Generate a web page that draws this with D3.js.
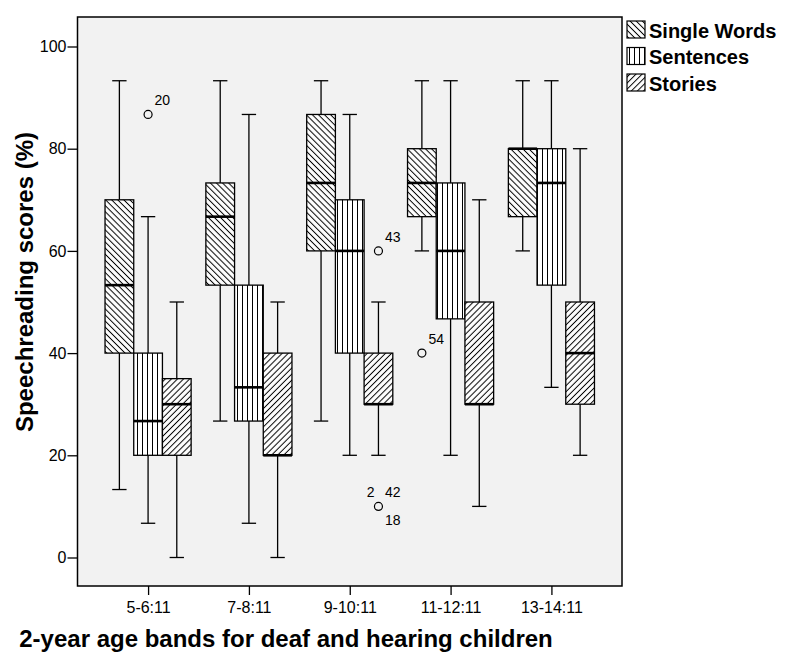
<!DOCTYPE html>
<html>
<head>
<meta charset="utf-8">
<script src="https://cdn.jsdelivr.net/npm/d3@7"></script>
<style>
  html, body { margin: 0; padding: 0; background: #fff; }
  svg { display: block; font-family: Arial, "Liberation Sans", sans-serif; }
</style>
</head>
<body>
<svg id="chart" width="800" height="663"></svg>
<script>
// ---- Data ----
const categories = ["5-6:11", "7-8:11", "9-10:11", "11-12:11", "13-14:11"];
const seriesNames = ["Single Words", "Sentences", "Stories"];
// each entry: [whiskerLow, q1, median, q3, whiskerHigh]
const singleWords = [
  [13.3, 40, 53.3, 70, 93.3],
  [26.7, 53.3, 66.7, 73.3, 93.3],
  [26.7, 60, 73.3, 86.7, 93.3],
  [60, 66.7, 73.3, 80, 93.3],
  [60, 66.7, 80, 80, 93.3]
];
const sentences = [
  [6.7, 20, 26.7, 40, 66.7],
  [6.7, 26.7, 33.3, 53.3, 86.7],
  [20, 40, 60, 70, 86.7],
  [20, 46.7, 60, 73.3, 93.3],
  [33.3, 53.3, 73.3, 80, 93.3]
];
const stories = [
  [0, 20, 30, 35, 50],
  [0, 20, 20, 40, 50],
  [20, 30, 30, 40, 50],
  [10, 30, 30, 50, 70],
  [20, 30, 40, 50, 80]
];
const outlierCats   = ["5-6:11", "9-10:11", "9-10:11", "11-12:11"];
const outlierSeries = ["Sentences", "Stories", "Stories", "Single Words"];
const outlierValues = [86.7, 60, 10, 40];
const outlierLabels = [["20"], ["43"], ["2", "42", "18"], ["54"]];
const yTicks = [0, 20, 40, 60, 80, 100];

// ---- Layout ----
const svg = d3.select("#chart");
const plot = { left: 77.5, right: 622, top: 17, bottom: 586 };
const FONT = "Arial, 'Liberation Sans', sans-serif";

const x = d3.scalePoint().domain(categories).range([plot.left, plot.right]).padding(0.7);
const boxW = 28.7;
const sub = d3.scalePoint().domain(seriesNames).range([-boxW, boxW]);
const y = d3.scaleLinear().domain([0, 100]).range([557.5, 46.5]);

// ---- Patterns ----
const defs = svg.append("defs");
function hatch(id, angle, spacing) {
  const p = defs.append("pattern")
    .attr("id", id).attr("patternUnits", "userSpaceOnUse")
    .attr("width", spacing).attr("height", spacing)
    .attr("patternTransform", `rotate(${angle})`);
  p.append("rect").attr("width", spacing).attr("height", spacing).attr("fill", "#fff");
  p.append("line").attr("x1", spacing / 2).attr("y1", 0).attr("x2", spacing / 2).attr("y2", spacing)
    .attr("stroke", "#000").attr("stroke-width", 1);
}
hatch("pSW", -45, 4.3);
hatch("pSE", 0, 5);
hatch("pST", 45, 4.3);
const fills = { "Single Words": "url(#pSW)", "Sentences": "url(#pSE)", "Stories": "url(#pST)" };
const dataBySeries = { "Single Words": singleWords, "Sentences": sentences, "Stories": stories };

// ---- Plot background ----
svg.append("rect")
  .attr("x", plot.left).attr("y", plot.top)
  .attr("width", plot.right - plot.left).attr("height", plot.bottom - plot.top)
  .attr("fill", "#f2f2f2");

// ---- Boxes ----
const boxes = [];
seriesNames.forEach(s => {
  dataBySeries[s].forEach((d, i) => {
    boxes.push({ cat: categories[i], series: s, lo: d[0], q1: d[1], med: d[2], q3: d[3], hi: d[4] });
  });
});

const g = svg.append("g");
const bg = g.selectAll("g.box").data(boxes).join("g").attr("class", "box");
const cx = d => x(d.cat) + sub(d.series);

bg.append("line") // upper whisker
  .attr("x1", cx).attr("x2", cx)
  .attr("y1", d => y(d.q3)).attr("y2", d => y(d.hi))
  .attr("stroke", "#000").attr("stroke-width", 1.3);
bg.append("line") // lower whisker
  .attr("x1", cx).attr("x2", cx)
  .attr("y1", d => y(d.q1)).attr("y2", d => y(d.lo))
  .attr("stroke", "#000").attr("stroke-width", 1.3);
bg.append("line") // top cap
  .attr("x1", d => cx(d) - boxW / 4).attr("x2", d => cx(d) + boxW / 4)
  .attr("y1", d => y(d.hi)).attr("y2", d => y(d.hi))
  .attr("stroke", "#000").attr("stroke-width", 1.3);
bg.append("line") // bottom cap
  .attr("x1", d => cx(d) - boxW / 4).attr("x2", d => cx(d) + boxW / 4)
  .attr("y1", d => y(d.lo)).attr("y2", d => y(d.lo))
  .attr("stroke", "#000").attr("stroke-width", 1.3);
bg.append("rect")
  .attr("x", d => cx(d) - boxW / 2).attr("width", boxW)
  .attr("y", d => y(d.q3)).attr("height", d => y(d.q1) - y(d.q3))
  .attr("fill", d => fills[d.series])
  .attr("stroke", "#000").attr("stroke-width", 1.3);
bg.append("line") // median
  .attr("x1", d => cx(d) - boxW / 2).attr("x2", d => cx(d) + boxW / 2)
  .attr("y1", d => y(d.med)).attr("y2", d => y(d.med))
  .attr("stroke", "#000").attr("stroke-width", 2.6);

// ---- Outliers ----
const outliers = outlierCats.map((c, i) => ({ cat: c, series: outlierSeries[i], value: outlierValues[i], labels: outlierLabels[i] }));
const og = g.selectAll("g.out").data(outliers).join("g").attr("class", "out");
og.append("circle")
  .attr("cx", cx).attr("cy", d => y(d.value)).attr("r", 4)
  .attr("fill", "none").attr("stroke", "#000").attr("stroke-width", 1.2);
const labelPos = [
  { dx: 6.5, dy: -9, anchor: "start" },
  { dx: -4, dy: -9, anchor: "end" },
  { dx: 6.5, dy: 18.5, anchor: "start" }
];
og.each(function (d) {
  const sel = d3.select(this);
  const order = d.labels.length === 3 ? [labelPos[1], labelPos[0], labelPos[2]] : [labelPos[0]];
  d.labels.forEach((t, k) => {
    const p = order[k];
    sel.append("text")
      .attr("x", cx(d) + p.dx).attr("y", y(d.value) + p.dy)
      .attr("text-anchor", p.anchor)
      .attr("font-family", FONT).attr("font-size", 14).attr("fill", "#000")
      .text(t);
  });
});

// ---- Frame ----
svg.append("rect")
  .attr("x", plot.left).attr("y", plot.top)
  .attr("width", plot.right - plot.left).attr("height", plot.bottom - plot.top)
  .attr("fill", "none").attr("stroke", "#000").attr("stroke-width", 1.5);

// ---- Axes ----
const yAxis = svg.append("g")
  .attr("transform", `translate(${plot.left},0)`)
  .call(d3.axisLeft(y).tickValues(yTicks).tickSize(10).tickPadding(1));
yAxis.select(".domain").remove();
yAxis.selectAll("line").attr("stroke", "#000").attr("stroke-width", 1.3);
yAxis.selectAll("text").attr("font-size", 16).attr("font-family", FONT).attr("fill", "#000");

const xAxis = svg.append("g")
  .attr("transform", `translate(0,${plot.bottom})`)
  .call(d3.axisBottom(x).tickSize(9).tickPadding(7));
xAxis.select(".domain").remove();
xAxis.selectAll("line").attr("stroke", "#000").attr("stroke-width", 1.3);
xAxis.selectAll("text").attr("font-size", 16).attr("font-family", FONT).attr("fill", "#000");

// ---- Axis titles ----
svg.append("text")
  .attr("x", 286).attr("y", 647)
  .attr("text-anchor", "middle").attr("font-family", FONT)
  .attr("font-weight", "bold").attr("font-size", 24)
  .text("2-year age bands for deaf and hearing children");
svg.append("text")
  .attr("transform", "translate(33,282) rotate(-90)")
  .attr("text-anchor", "middle").attr("font-family", FONT)
  .attr("font-weight", "bold").attr("font-size", 24)
  .text("Speechreading scores (%)");

// ---- Legend ----
const leg = svg.append("g");
const li = leg.selectAll("g").data(seriesNames).join("g")
  .attr("transform", (d, i) => `translate(627,${21 + i * 26.5})`);
li.append("rect").attr("width", 18).attr("height", 17)
  .attr("fill", d => fills[d]).attr("stroke", "#000").attr("stroke-width", 1.2);
li.append("text").attr("x", 22).attr("y", 16.5)
  .attr("font-family", FONT).attr("font-weight", "bold").attr("font-size", 20).attr("fill", "#000")
  .text(d => d);
</script>
</body>
</html>
